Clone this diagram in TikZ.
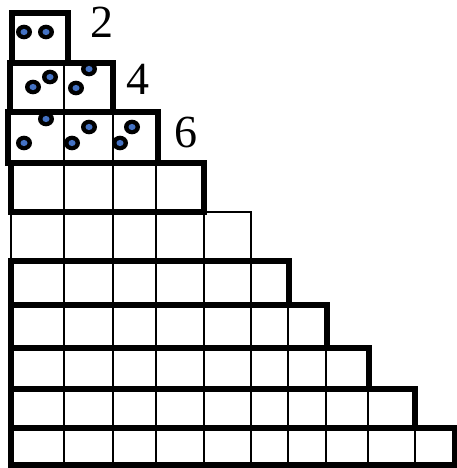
\documentclass[tikz,border=0pt]{standalone}
\usepackage{fontspec}
\setmainfont{Liberation Serif}
\definecolor{dotblue}{RGB}{68,114,196}
\begin{document}
\begin{tikzpicture}[x=1pt,y=-1pt,
  thickbox/.style={line width=5.2pt, line join=miter},
  thinline/.style={line width=2.2pt},
  numlabel/.style={anchor=base, inner sep=0pt, font=\fontsize{46}{46}\selectfont}]
\useasboundingbox (0,0) rectangle (456,468);
% thin internal lines
\foreach \t/\b/\n in {63/112/1,112/163/2,163/212/3,212/261/4,261/305/5,305/348/6,348/389/7,389/428/8,428/465/9}{
  \foreach \x [count=\i] in {64,113,156,204,251,288,326,368,415}{
    \ifnum\i>\n\else
      \draw[thinline] (\x,\t) -- (\x,\b);
    \fi
  }
}
% row 5 thin outline
\draw[thinline] (11,212) rectangle (251,261);
% thick row boxes
\draw[thickbox] (12,13) rectangle (68,63);
\draw[thickbox] (10,63) rectangle (113,112);
\draw[thickbox] (8,112) rectangle (158,163);
\draw[thickbox] (11,163) rectangle (204,212);
\draw[thickbox] (11,261) rectangle (289,305);
\draw[thickbox] (11,305) rectangle (327,348);
\draw[thickbox] (11,348) rectangle (369,389);
\draw[thickbox] (11,389) rectangle (415,428);
\draw[thickbox] (11,428) rectangle (455,465);
% dots
\foreach \x/\y [count=\k] in {24/32,46/32,33/87,50/77,89/69,76/88,46/119,24/143,89/127,72/143,132/127,120/143}{
  \fill[black] (\x,\y) ellipse (8 and 7.3);
  \fill[dotblue] (\x,\y) ellipse (3.5 and 3.1);
  \coordinate (dot\k) at (\x,\y);
}
% labels
\node[numlabel] (l2) at (102,38) {2};
\node[numlabel] (l4) at (138,95) {4};
\node[numlabel] (l6) at (186,147) {6};
\end{tikzpicture}
\end{document}
